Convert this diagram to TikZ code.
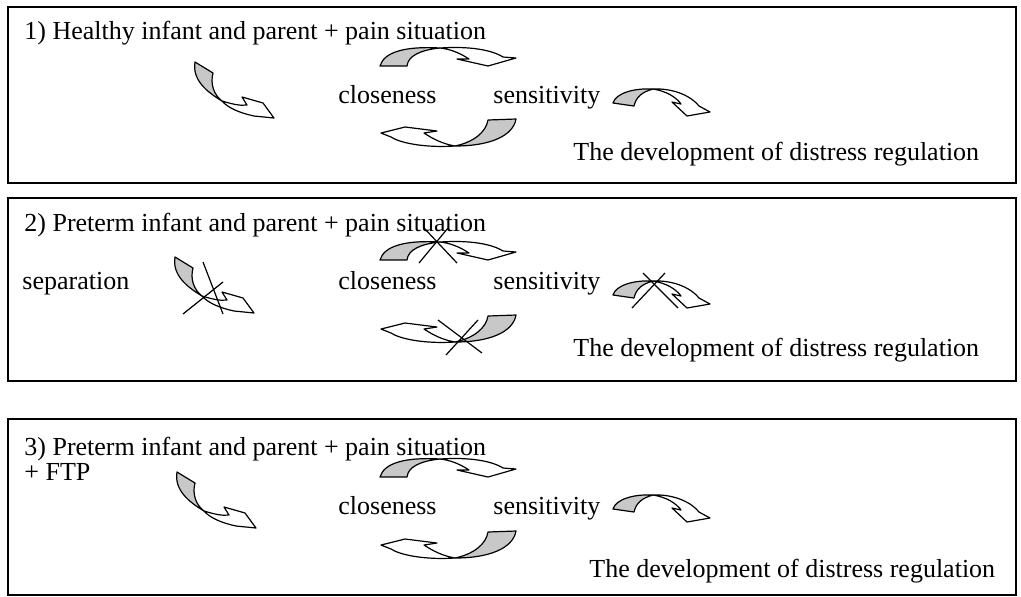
\documentclass[tikz,border=0pt]{standalone}
\usepackage{fontspec}
\setmainfont{Liberation Serif}
\definecolor{arrowgrey}{RGB}{200,200,200}
\tikzset{
  band/.style={draw=black, line width=0.6pt, line join=round},
  back/.style={band, fill=arrowgrey},
  front/.style={band, fill=white},
  frame/.style={draw=black, line width=0.8pt},
  lbl/.style={anchor=base west, inner sep=0pt, font=\fontsize{13}{15}\selectfont},
  crossline/.style={draw=black, line width=0.6pt},
  arrowtop/.pic={
    \path[back] (380,66) -- (407,66) .. controls (408,56) and (420,50) .. (440,48)
      .. controls (405,46) and (384,52) .. (380,66) -- cycle;
    \path[front] (440,48) .. controls (470,46) and (492,50) .. (503,57) -- (516,58)
      -- (488,66) -- (457,59) -- (469,59) .. controls (460,53) and (450,49) .. (440,48) -- cycle;
  },
  arrowbottom/.pic={
    \path[back] (488,120) -- (516,119) .. controls (513,136) and (490,146) .. (455,146)
      .. controls (474,142) and (486,132) .. (488,120) -- cycle;
    \path[front] (455,146) .. controls (425,148) and (400,143) .. (391,137) -- (381,133)
      -- (405,127) -- (437,131) -- (424,133) .. controls (433,139) and (443,144) .. (455,146) -- cycle;
  },
  arrowright/.pic={
    \path[back] (613,103) -- (634,106) .. controls (636,97) and (642,92) .. (653,89)
      .. controls (634,88) and (616,93) .. (613,103) -- cycle;
    \path[front] (653,89) .. controls (675,88) and (692,97) .. (699,106) -- (710,112)
      -- (687,116) -- (672,102) -- (681,104) .. controls (676,97) and (666,91) .. (653,89) -- cycle;
  },
  arrowleft/.pic={
    \path[back] (195,62) -- (213,73) .. controls (210,84) and (214,95) .. (222,101)
      .. controls (207,92) and (192,80) .. (195,62) -- cycle;
    \path[front] (222,101) .. controls (232,104) and (240,106) .. (247,105) -- (242,97)
      -- (263,103) -- (274,118) -- (254,116) .. controls (240,113) and (228,108) .. (222,101) -- cycle;
  }
}
\begin{document}
\begin{tikzpicture}[x=0.5pt,y=-0.5pt]
\useasboundingbox (0,0) rectangle (1021,596);

% ---------- box 1 ----------
\draw[frame] (8,7) rectangle (1016,183);
\node[lbl] (t1) at (24,39) {1) Healthy infant and parent + pain situation};
\node[lbl] (c1) at (338,103) {closeness};
\node[lbl] (s1) at (493,103) {sensitivity};
\node[lbl] (d1) at (573,160) {The development of distress regulation};
\pic at (0,0) {arrowleft};
\pic at (0,0) {arrowtop};
\pic at (0,0) {arrowbottom};
\pic at (0,0) {arrowright};

% ---------- box 2 ----------
\draw[frame] (8,198) rectangle (1016,381);
\node[lbl] (t2) at (24,231) {2) Preterm infant and parent + pain situation};
\node[lbl] (p2) at (22,289) {separation};
\node[lbl] (c2) at (338,289) {closeness};
\node[lbl] (s2) at (493,289) {sensitivity};
\node[lbl] (d2) at (573,356) {The development of distress regulation};
\pic at (-20,195) {arrowleft};
\pic at (0,194) {arrowtop};
\pic at (0,196) {arrowbottom};
\pic at (0,192) {arrowright};
\draw[crossline] (203,262) -- (223,314);
\draw[crossline] (183,314) -- (223,282);
\draw[crossline] (419,263) -- (448,228);
\draw[crossline] (457,263) -- (424,228);
\draw[crossline] (438,320) -- (482,353);
\draw[crossline] (478,320) -- (446,355);
\draw[crossline] (632,308) -- (665,273);
\draw[crossline] (678,308) -- (643,273);

% ---------- box 3 ----------
\draw[frame] (8,419) rectangle (1016,595);
\node[lbl] (t3) at (24,455) {3) Preterm infant and parent + pain situation};
\node[lbl] (f3) at (24,480) {+ FTP};
\node[lbl] (c3) at (338,514) {closeness};
\node[lbl] (s3) at (493,514) {sensitivity};
\node[lbl] (d3) at (589,577) {The development of distress regulation};
\pic at (-18,410) {arrowleft};
\pic at (0,411) {arrowtop};
\pic at (0,412) {arrowbottom};
\pic at (0,406) {arrowright};
\end{tikzpicture}
\end{document}
